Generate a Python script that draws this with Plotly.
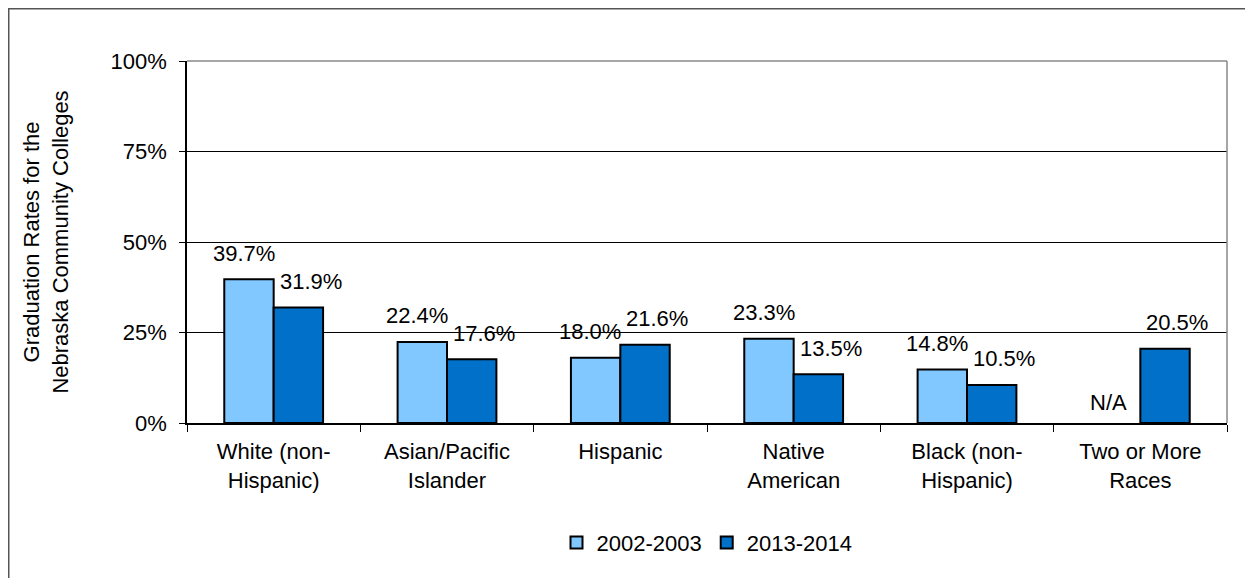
import plotly.graph_objects as go

categories = ["White (non-<br>Hispanic)", "Asian/Pacific<br>Islander", "Hispanic",
              "Native<br>American", "Black (non-<br>Hispanic)", "Two or More<br>Races"]
rates_2002 = [39.7, 22.4, 18.0, 23.3, 14.8, None]
rates_2013 = [31.9, 17.6, 21.6, 13.5, 10.5, 20.5]
series_names = ["2002-2003", "2013-2014"]
y_ticks = [0, 25, 50, 75, 100]
y_tick_text = ["0%", "25%", "50%", "75%", "100%"]
missing_label = "N/A"

FONT = "Liberation Sans, Arial, sans-serif"
FS = 22

fig = go.Figure()
fig.add_trace(go.Bar(
    x=categories, y=rates_2002, name=series_names[0],
    marker=dict(color="#80C8FF", line=dict(color="black", width=2)),
))
fig.add_trace(go.Bar(
    x=categories, y=rates_2013, name=series_names[1],
    marker=dict(color="#0070C8", line=dict(color="black", width=2)),
))

# data labels
for series, xs in ((rates_2002, -30), (rates_2013, 37)):
    for cat, v in zip(categories, series):
        if v is None:
            fig.add_annotation(x=cat, y=0, text=missing_label, showarrow=False,
                               xshift=-32, yshift=21, yanchor="middle",
                               font=dict(size=FS, color="black", family=FONT))
        else:
            fig.add_annotation(x=cat, y=v, text="%.1f%%" % v, showarrow=False,
                               xshift=xs, yshift=26, yanchor="middle",
                               font=dict(size=FS, color="black", family=FONT))

# outer chart border
fig.add_shape(type="rect", xref="paper", yref="paper",
              x0=-0.1714, x1=1.3, y0=-0.8, y1=1.1443,
              line=dict(color="#555555", width=1.5), layer="below")
# gray plot-area edges (top and right)
fig.add_shape(type="line", xref="paper", yref="paper",
              x0=1, x1=1, y0=0, y1=1, line=dict(color="#888888", width=1.5))
fig.add_shape(type="line", xref="paper", yref="paper",
              x0=0, x1=1, y0=1, y1=1, line=dict(color="#888888", width=1.5))

fig.update_layout(
    width=1245, height=570,
    margin=dict(l=179, r=26, t=53, b=155),
    paper_bgcolor="white", plot_bgcolor="white",
    barmode="group", bargap=0.43, bargroupgap=0,
    font=dict(family=FONT, size=FS, color="black"),
    showlegend=True,
    legend=dict(orientation="h", x=0.5, xanchor="center", y=-0.331, yanchor="middle",
                font=dict(size=FS), traceorder="normal", itemwidth=30),
    xaxis=dict(showline=True, linecolor="black", linewidth=1.5,
               ticks="outside", tickson="boundaries", ticklen=7, tickcolor="black",
               tickwidth=1.2, ticklabelstandoff=8,
               tickfont=dict(size=FS), showgrid=False),
    yaxis=dict(range=[0, 100], tickvals=y_ticks, ticktext=y_tick_text,
               showline=True, linecolor="black", linewidth=1.5,
               ticks="outside", ticklen=6, tickcolor="black", tickwidth=1.2,
               ticklabelstandoff=8,
               showgrid=True, gridcolor="black", gridwidth=1,
               tickfont=dict(size=FS),
               title=dict(text="Graduation Rates for the<br>Nebraska Community Colleges",
                          font=dict(size=FS), standoff=36)),
)

fig.write_html("out.html")
